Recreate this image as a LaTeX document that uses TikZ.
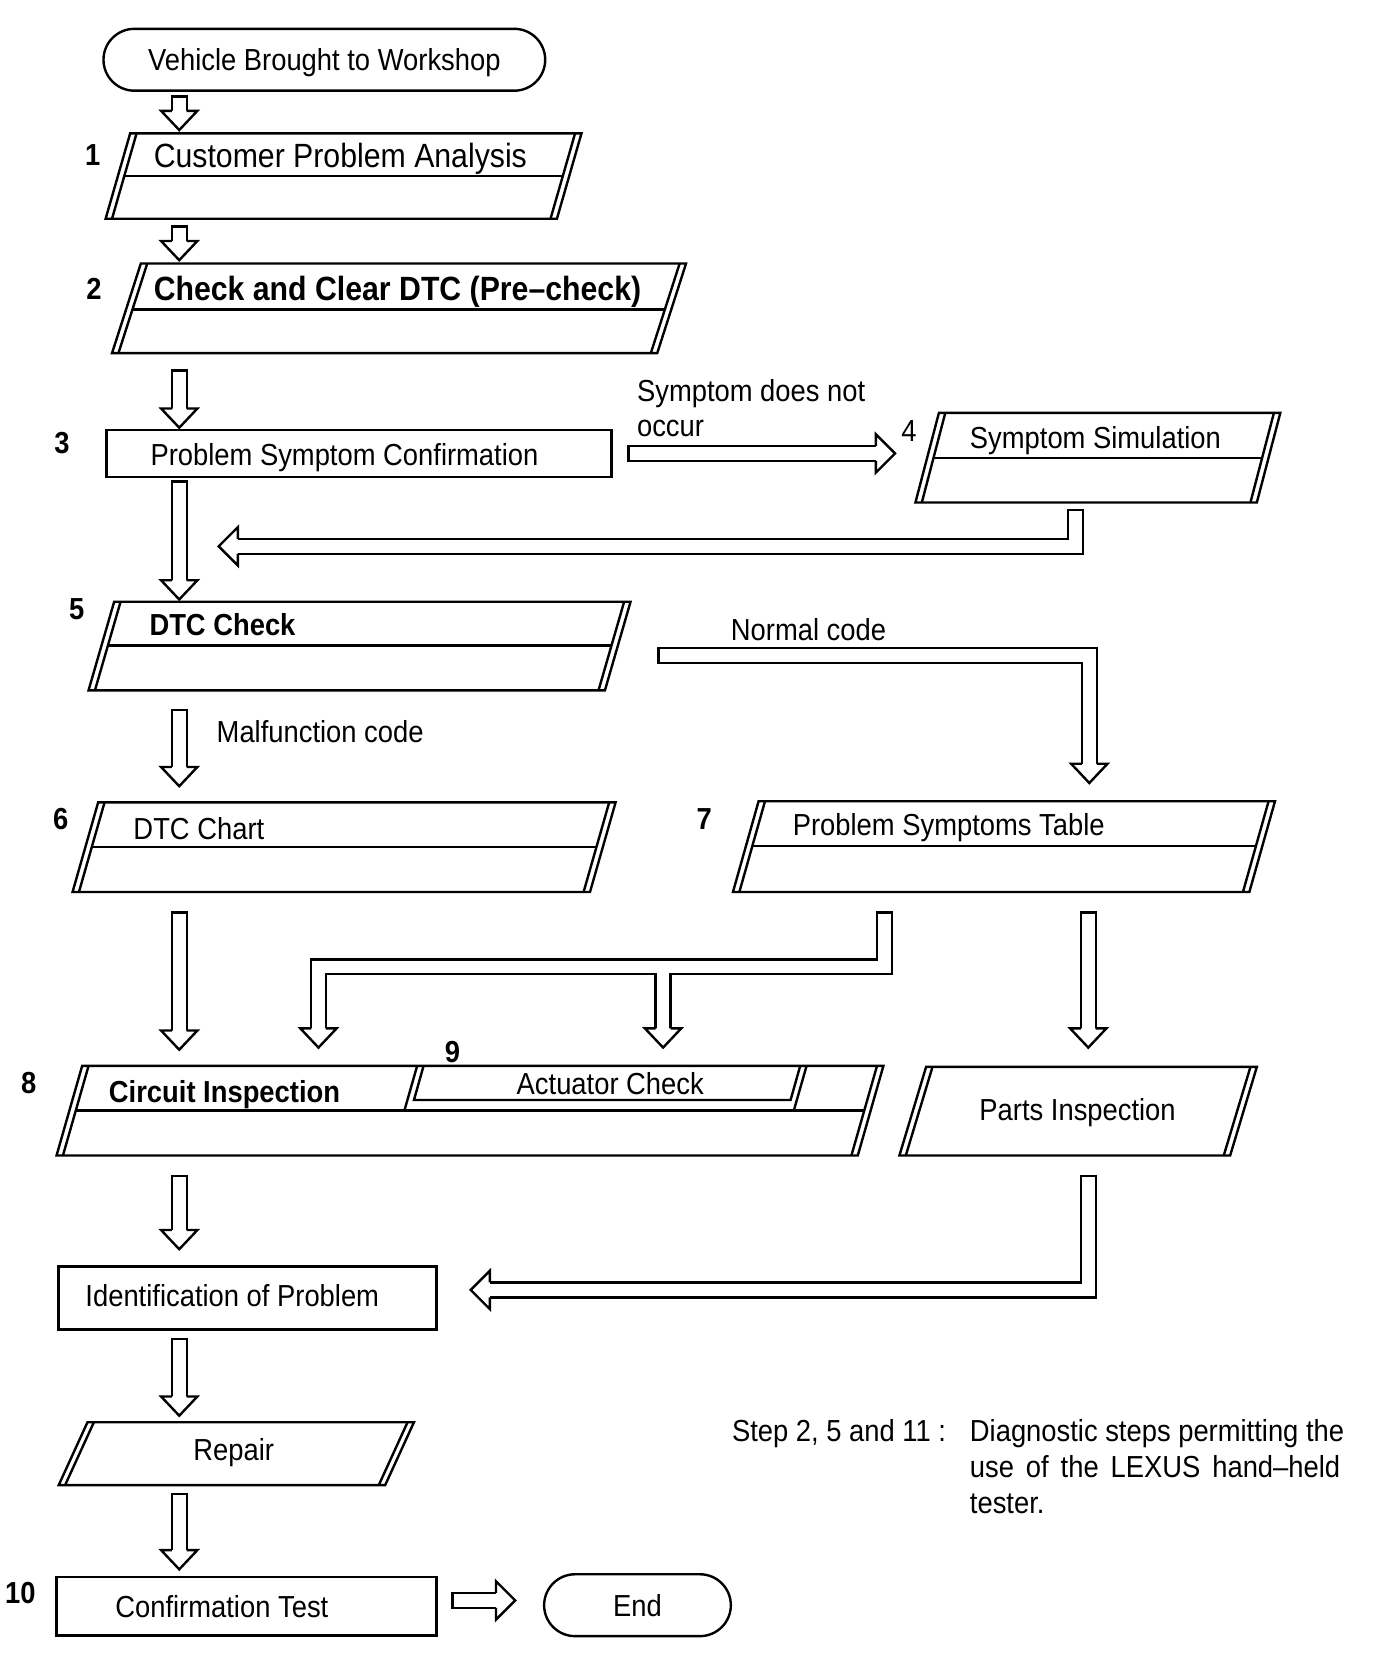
\documentclass[tikz,border=0pt]{standalone}
\usepackage{fontspec}
\setmainfont[FakeStretch=0.9]{Liberation Sans}
\usetikzlibrary{calc}

% slanted step box: name, x, y (top left), width, height, slant, divider (0 = none)
\newcommand{\slantbox}[7]{%
  \pgfmathsetmacro\bxr{#2+#4}%
  \pgfmathsetmacro\bxc{#2+#4/2-#6/2}%
  \pgfmathsetmacro\byc{#3+#5/2}%
  \draw (#2,#3) -- (\bxr,#3) -- ++(-#6,#5) -- ++(-#4,0) -- cycle;
  \draw ({#2+6},#3) -- ++(-#6,#5);
  \draw ({\bxr-6},#3) -- ++(-#6,#5);
  \ifnum#7>0
    \pgfmathsetmacro\bdx{#6*#7/#5}%
    \draw ({#2+6-\bdx},{#3+#7}) -- ({\bxr-6-\bdx},{#3+#7});
  \fi
  \node[minimum width=#4*0.4pt, minimum height=#5*0.4pt] (#1) at (\bxc,\byc) {};
}

% hollow arrow: path, tip, head
\newcommand{\hollow}[3]{%
  \draw[shaftout] #1;
  \draw[shaftin] #1;
  \pic at #2 {#3};
}
\newcommand{\hdown}[2]{\hollow{#1 -- #2}{#2}{headdown}}

\tikzset{
  term/.style={draw, rounded corners=11.6pt, minimum height=23.2pt},
  num/.style={font=\fontsize{11.4}{13.6}\selectfont\bfseries},
  bold/.style={font=\fontsize{11.4}{13.6}\selectfont\bfseries},
  big/.style={font=\fontsize{12.6}{15}\selectfont, text height=9pt},
  bigbold/.style={font=\fontsize{12.6}{15}\selectfont\bfseries, text height=9pt},
  shaftout/.style={line width=6.5pt, line join=miter, shorten >=6pt},
  shaftin/.style={white, line width=4.7pt, line join=miter, shorten <=0.9pt, shorten >=6pt},
  headdown/.pic={\draw[fill=white] (-7,-18) -- (-17,-18) -- (0,0) -- (17,-18) -- (7,-18);},
  headright/.pic={\draw[fill=white] (-18,-7) -- (-18,-18) -- (0,0) -- (-18,18) -- (-18,7);},
  headleft/.pic={\draw[fill=white] (18,-7) -- (18,-18) -- (0,0) -- (18,18) -- (18,7);},
}

\begin{document}
\begin{tikzpicture}[x=0.4pt, y=-0.4pt, line width=0.9pt,
    every node/.style={inner sep=0pt, text height=8.2pt, text depth=0pt,
      font=\fontsize{11.4}{13.6}\selectfont}]
  \useasboundingbox (0,0) rectangle (1290,1569);

  % steps
  \node[term, minimum width=165.6pt] (start) at (304,56) {Vehicle Brought to Workshop};

  \slantbox{b1}{122}{125}{423}{80}{23}{40}
  \node[num] (n1) at (87,145) {1};
  \node[big, anchor=west] (t1) at (143,146) {Customer Problem Analysis};

  \slantbox{b2}{132}{247}{511}{84}{27}{43}
  \node[num] (n2) at (88,270) {2};
  \node[bigbold, anchor=west] (t2) at (143,270) {Check and Clear DTC (Pre–check)};

  \node[draw, minimum width=189.2pt, minimum height=17.6pt] (b3) at (336.5,425) {};
  \node[num] (n3) at (58,415) {3};
  \node[anchor=west] (t3) at (140,426) {Problem Symptom Confirmation};
  \node[anchor=west] (nocc1) at (596,366) {Symptom does not};
  \node[anchor=west] (nocc2) at (596,399) {occur};

  \slantbox{b4}{880}{387}{320}{84}{22}{42}
  \node (n4) at (852,404) {4};
  \node[anchor=west] (t4) at (908,410) {Symptom Simulation};

  \slantbox{b5}{107}{564}{484}{83}{24}{41}
  \node[num] (n5) at (72,570) {5};
  \node[bold, anchor=west] (t5) at (139,585) {DTC Check};
  \node[anchor=west] (ncode) at (684,590) {Normal code};
  \node[anchor=west] (mcode) at (202,686) {Malfunction code};

  \slantbox{b6}{92}{752}{485}{84}{24}{42}
  \node[num] (n6) at (57,767) {6};
  \node[anchor=west] (t6) at (124,777) {DTC Chart};

  \slantbox{b7}{711}{751}{484}{85}{24}{42}
  \node[num] (n7) at (660,767) {7};
  \node[anchor=west] (t7) at (742,773) {Problem Symptoms Table};

  \slantbox{b8}{77}{999}{751}{84}{24}{42}
  \node[num] (n8) at (27,1015) {8};
  \node[bold, anchor=west] (t8) at (101,1023) {Circuit Inspection};
  % actuator check inside step 8
  \draw (391,999) -- (379,1041);
  \draw (397,999) -- (388,1031) -- (741,1031) -- (750,999);
  \draw (756,999) -- (744,1041);
  \node[num] (n9) at (424,986) {9};
  \node (t9) at (572,1016) {Actuator Check};

  \slantbox{parts}{868}{1000}{310}{83}{25}{0}
  \node (tparts) at (1010,1040) {Parts Inspection};

  \node[draw, minimum width=141.6pt, minimum height=23.6pt] (ident) at (232,1216.5) {};
  \node[anchor=west] (tident) at (79,1214) {Identification of Problem};

  \slantbox{repair}{82}{1333}{306}{59}{27}{0}
  \node (trep) at (219,1359) {Repair};

  \node[draw, minimum width=142.4pt, minimum height=22pt] (conf) at (231,1505.5) {};
  \node[num] (n10) at (19,1493) {10};
  \node[anchor=west] (tconf) at (107,1506) {Confirmation Test};
  \node[term, minimum width=70pt] (end) at (597.5,1504.5) {End};

  % note
  \node[anchor=west] (nstep) at (685,1341) {Step 2, 5 and 11 :};
  \node[anchor=west] (note1) at (908,1341) {Diagnostic steps permitting the};
  \node[anchor=west] (note2) at (908,1375) {\makebox[138.8pt][s]{use of the LEXUS hand–held}};
  \node[anchor=west] (note3) at (908,1408) {tester.};

  % arrows
  \coordinate (spine) at (168,0);
  \coordinate (merge) at (205,512);
  \hdown{($(start.south -| spine)+(0,3)$)}{($(b1.north -| spine)+(0,-2)$)}
  \hdown{($(b1.south -| spine)+(0,5)$)}{($(b2.north -| spine)+(0,-2)$)}
  \hdown{($(b2.south -| spine)+(0,14)$)}{($(b3.north -| spine)+(0,-1)$)}
  \hollow{($(b3.east)+(14,0)$) -- ($(b4.west |- b3.east)+(-29,0)$)}{($(b4.west |- b3.east)+(-29,0)$)}{headright}
  \coordinate (a5t) at ($(b4.south)+(-21,5)$);
  \hollow{(a5t) -- (a5t |- merge) -- (merge)}{(merge)}{headleft}
  \hdown{($(b3.south -| spine)+(0,2)$)}{($(b5.north -| spine)+(0,-1)$)}

  \coordinate (a7t) at ($(b5.east)+(36,9)$);
  \coordinate (a7h) at ($(b7.north)+(80,-16)$);
  \hollow{(a7t) -- (a7t -| a7h) -- (a7h)}{(a7h)}{headdown}
  \hdown{($(b5.south -| spine)+(0,16)$)}{($(b6.north -| spine)+(0,-14)$)}
  \hdown{($(b6.south -| spine)+(0,17)$)}{($(b8.north -| spine)+(0,-14)$)}

  \coordinate (a10t) at ($(b7.south)+(-112,17)$);
  \coordinate (a10c) at ($(a10t)+(0,52)$);
  \coordinate (a10l) at ($(b8.north)+(-142,-16)$);
  \coordinate (a10r) at ($(b8.north)+(181,-16)$);
  \draw[shaftout] (a10t) -- (a10c) -- (a10c -| a10l) -- (a10l);
  \draw[shaftout] (a10c -| a10r) -- (a10r);
  \draw[shaftin] (a10t) -- (a10c) -- (a10c -| a10l) -- (a10l);
  \draw[shaftin] (a10c -| a10r) -- (a10r);
  \pic at (a10l) {headdown};
  \pic at (a10r) {headdown};

  \coordinate (a11t) at ($(b7.south)+(79,17)$);
  \hdown{(a11t)}{($(a11t |- parts.north)+(0,-17)$)}
  \hdown{($(b8.south -| spine)+(0,17)$)}{($(ident.north -| spine)+(0,-15)$)}
  \coordinate (a13t) at ($(parts.south)+(9.5,17)$);
  \coordinate (a13h) at ($(ident.east)+(31,-7.5)$);
  \hollow{(a13t) -- (a13t |- a13h) -- (a13h)}{(a13h)}{headleft}
  \hdown{($(ident.south -| spine)+(0,7)$)}{($(repair.north -| spine)+(0,-5)$)}
  \hdown{($(repair.south -| spine)+(0,6)$)}{($(conf.north -| spine)+(0,-6)$)}
  \coordinate (a16t) at ($(conf.east)+(13,-5.5)$);
  \hollow{(a16t) -- ($(end.west |- a16t)+(-26,0)$)}{($(end.west |- a16t)+(-26,0)$)}{headright}
\end{tikzpicture}
\end{document}
